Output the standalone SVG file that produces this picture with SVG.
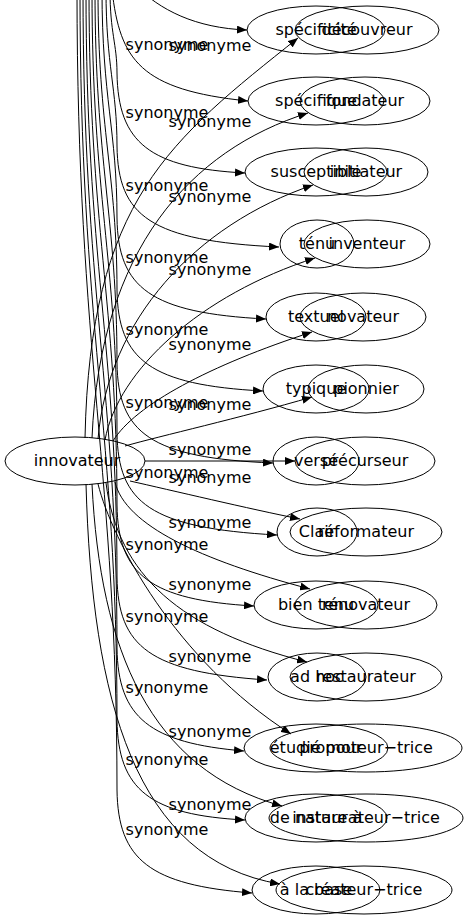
<svg xmlns="http://www.w3.org/2000/svg" width="469" height="923" viewBox="0 0 469 923">
<style>
ellipse{fill:none;stroke:#000;stroke-width:1}
text{font-family:"DejaVu Sans","Liberation Sans",sans-serif;font-size:16px;text-anchor:middle;fill:#000}
#edges path{fill:none;stroke:#000;stroke-width:1;marker-end:url(#ah)}
</style>
<defs><marker id="ah" markerUnits="userSpaceOnUse" markerWidth="10" markerHeight="8" refX="10" refY="4" orient="auto"><path d="M0,0 L10,4 L0,8 z" fill="#000"/></marker></defs>
<rect width="469" height="923" fill="#fff"/>
<g id="edges">
<path d="M135,-15 C160,10 195,28 247,30"/>
<path d="M112,-10 C120,60 140,90 248,101"/>
<path d="M110,-10 C110,33 117,44 117,73 C118,143 150,168 245,173"/>
<path d="M106,-10 C106,66 117,88 117,146 C118,216 150,241 279,247"/>
<path d="M102,-10 C102,98 117,131 117,218 C118,288 150,313 266,319"/>
<path d="M98,-10 C98,130 117,174 117,290 C118,360 150,385 263,391"/>
<path d="M95,-10 C95,163 117,218 117,363 C118,433 150,458 273,463"/>
<path d="M92,-10 C92,195 117,260 117,433 C118,503 150,528 277,535"/>
<path d="M89,-10 C89,227 117,303 117,505 C118,575 150,600 254,606"/>
<path d="M86,-10 C86,260 117,346 117,577 C118,647 150,672 267,680"/>
<path d="M83,-10 C83,292 117,389 117,648 C118,718 150,743 244,751"/>
<path d="M80,-10 C80,324 117,432 117,720 C118,790 150,815 245,820"/>
<path d="M77,-10 C77,355 117,474 117,790 C118,860 150,885 252,893"/>
<path d="M85,438 C90,200 170,140 298,38"/>
<path d="M92,438 C100,250 190,150 308,113"/>
<path d="M98,439 C108,320 195,225 313,185"/>
<path d="M105,440 C118,370 200,295 315,258"/>
<path d="M113,441 C135,405 210,365 312,332"/>
<path d="M125,446 C160,436 240,418 312,397"/>
<path d="M145,461 L295,461"/>
<path d="M130,481 C170,490 250,509 300,519"/>
<path d="M115,482 C125,525 200,560 310,589"/>
<path d="M106,483 C118,575 180,630 307,662"/>
<path d="M98,484 C112,540 175,660 291,734"/>
<path d="M92,484 C100,650 150,770 282,806"/>
<path d="M86,484 C92,700 135,860 280,884"/>
</g>
<g id="edge-labels">
<text x="167" y="50">synonyme</text>
<text x="167" y="118">synonyme</text>
<text x="167" y="191">synonyme</text>
<text x="167" y="263">synonyme</text>
<text x="167" y="335">synonyme</text>
<text x="167" y="408">synonyme</text>
<text x="167" y="478">synonyme</text>
<text x="167" y="550">synonyme</text>
<text x="167" y="622">synonyme</text>
<text x="167" y="693">synonyme</text>
<text x="167" y="765">synonyme</text>
<text x="167" y="835">synonyme</text>
<text x="210" y="51">synonyme</text>
<text x="210" y="127">synonyme</text>
<text x="210" y="202">synonyme</text>
<text x="210" y="275">synonyme</text>
<text x="210" y="350">synonyme</text>
<text x="210" y="410">synonyme</text>
<text x="210" y="455">synonyme</text>
<text x="210" y="483">synonyme</text>
<text x="210" y="528">synonyme</text>
<text x="210" y="590">synonyme</text>
<text x="210" y="662">synonyme</text>
<text x="210" y="737">synonyme</text>
<text x="210" y="810">synonyme</text>
</g>
<g id="innovateur"><ellipse cx="75" cy="461" rx="70" ry="24"/><text x="77" y="466">innovateur</text></g>
<g id="a0"><ellipse cx="316" cy="30" rx="69" ry="24"/><text x="316" y="35">spécificité</text></g>
<g id="a1"><ellipse cx="316" cy="101" rx="68" ry="24"/><text x="316" y="106">spécifique</text></g>
<g id="a2"><ellipse cx="316" cy="172" rx="71" ry="24"/><text x="316" y="177">susceptible</text></g>
<g id="a3"><ellipse cx="317" cy="244" rx="37" ry="24"/><text x="317" y="249">ténu</text></g>
<g id="a4"><ellipse cx="316" cy="317" rx="50" ry="24"/><text x="316" y="322">textuel</text></g>
<g id="a5"><ellipse cx="316" cy="389" rx="53" ry="24"/><text x="316" y="394">typique</text></g>
<g id="a6"><ellipse cx="316" cy="461" rx="43" ry="24"/><text x="316" y="466">versé</text></g>
<g id="a7"><ellipse cx="317" cy="532" rx="40" ry="24"/><text x="317" y="537">Clair</text></g>
<g id="a8"><ellipse cx="316" cy="605" rx="62" ry="24"/><text x="316" y="610">bien tenu</text></g>
<g id="a9"><ellipse cx="317" cy="677" rx="49" ry="24"/><text x="317" y="682">ad hoc</text></g>
<g id="a10"><ellipse cx="316" cy="748" rx="72" ry="24"/><text x="316" y="753">étudié pour</text></g>
<g id="a11"><ellipse cx="316" cy="818" rx="71" ry="24"/><text x="316" y="823">de nature à</text></g>
<g id="a12"><ellipse cx="316" cy="890" rx="64" ry="24"/><text x="316" y="895">à la base</text></g>
<g id="b0"><ellipse cx="367" cy="30" rx="72" ry="24"/><text x="367" y="35">découvreur</text></g>
<g id="b1"><ellipse cx="365" cy="101" rx="65" ry="24"/><text x="365" y="106">fondateur</text></g>
<g id="b2"><ellipse cx="366" cy="172" rx="62" ry="24"/><text x="366" y="177">initiateur</text></g>
<g id="b3"><ellipse cx="367" cy="244" rx="63" ry="24"/><text x="367" y="249">inventeur</text></g>
<g id="b4"><ellipse cx="363" cy="317" rx="63" ry="24"/><text x="363" y="322">novateur</text></g>
<g id="b5"><ellipse cx="366" cy="389" rx="58" ry="24"/><text x="366" y="394">pionnier</text></g>
<g id="b6"><ellipse cx="365" cy="461" rx="70" ry="24"/><text x="365" y="466">précurseur</text></g>
<g id="b7"><ellipse cx="366" cy="532" rx="76" ry="24"/><text x="366" y="537">réformateur</text></g>
<g id="b8"><ellipse cx="366" cy="605" rx="71" ry="24"/><text x="366" y="610">rénovateur</text></g>
<g id="b9"><ellipse cx="366" cy="677" rx="76" ry="24"/><text x="366" y="682">restaurateur</text></g>
<g id="b10"><ellipse cx="366" cy="748" rx="96" ry="24"/><text x="366" y="753">promoteur−trice</text></g>
<g id="b11"><ellipse cx="366" cy="818" rx="97" ry="24"/><text x="366" y="823">instaurateur−trice</text></g>
<g id="b12"><ellipse cx="364" cy="890" rx="88" ry="24"/><text x="364" y="895">créateur−trice</text></g>
</svg>
